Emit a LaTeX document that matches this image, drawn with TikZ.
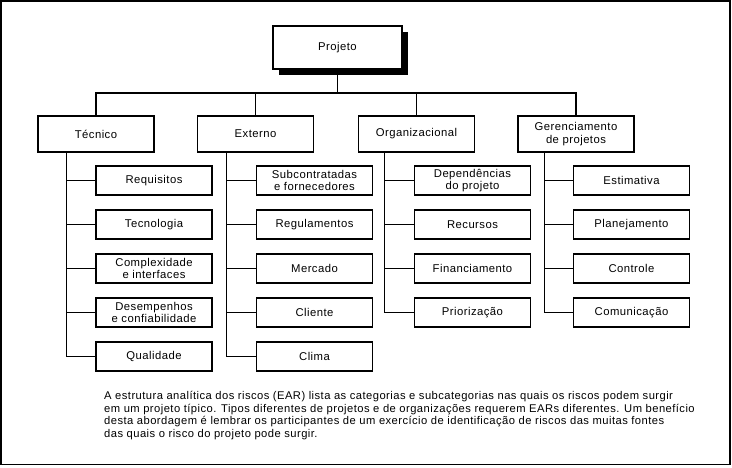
\documentclass[tikz,border=0pt]{standalone}
\usepackage{fontspec}
\setmainfont[LetterSpace=4]{Liberation Sans}
\begin{document}
\begin{tikzpicture}[x=1pt,y=-1pt,
  every node/.style={font=\fontsize{11.3}{12.2}\selectfont},
  bx/.style={draw, line width=1.3pt, minimum width=116pt, inner sep=0pt, align=center},
  lvl/.style={bx, minimum height=36pt},
  leaf/.style={bx, minimum height=29pt},
  conn/.style={line width=1.1pt}
]
\useasboundingbox (0,0) rectangle (732,467);
\draw[line width=1.8pt] (1,1) rectangle (730,464.5);

% root with shadow
\fill[black] (279,32) rectangle (408,75);
\node[bx, fill=white, minimum width=129pt, minimum height=43pt] (proj) at (337.5,47.5) {Projeto};

% level 1
\node[lvl] (tec) at (96,134) {Técnico};
\node[lvl] (ext) at (255.5,134) {Externo};
\node[lvl] (org) at (416.5,134) {Organizacional};
\node[lvl] (ger) at (576,134) {Gerenciamento\\de projetos};

\coordinate (bus) at (0,93);
\draw[conn] (proj.south) -- (proj.south |- bus);
\draw[conn] (tec.north) -- (tec.north |- bus) -- (ger.north |- bus) -- (ger.north);
\draw[conn] (ext.north) -- (ext.north |- bus);
\draw[conn] (org.north) -- (org.north |- bus);

% Técnico children
\node[leaf] (t1) at (154,180.5) {Requisitos};
\node[leaf] (t2) at (154,224.5) {Tecnologia};
\node[leaf] (t3) at (154,268.5) {Complexidade\\e interfaces};
\node[leaf] (t4) at (154,312.5) {Desempenhos\\e confiabilidade};
\node[leaf] (t5) at (154,356.5) {Qualidade};

% Externo children
\node[leaf] (e1) at (314.5,180.5) {Subcontratadas\\e fornecedores};
\node[leaf] (e2) at (314.5,224.5) {Regulamentos};
\node[leaf] (e3) at (314.5,268.5) {Mercado};
\node[leaf] (e4) at (314.5,312.5) {Cliente};
\node[leaf] (e5) at (314.5,356.5) {Clima};

% Organizacional children
\node[leaf] (o1) at (472.5,180.5) {Dependências\\do projeto};
\node[leaf] (o2) at (472.5,224.5) {Recursos};
\node[leaf] (o3) at (472.5,268.5) {Financiamento};
\node[leaf] (o4) at (472.5,312.5) {Priorização};

% Gerenciamento children
\node[leaf] (g1) at (631.5,180.5) {Estimativa};
\node[leaf] (g2) at (631.5,224.5) {Planejamento};
\node[leaf] (g3) at (631.5,268.5) {Controle};
\node[leaf] (g4) at (631.5,312.5) {Comunicação};

% spines
\coordinate (ts) at ([xshift=29pt]tec.south west);
\coordinate (es) at ([xshift=30pt]ext.south west);
\coordinate (os) at ([xshift=27pt]org.south west);
\coordinate (gs) at ([xshift=27pt]ger.south west);

\draw[conn] (ts) |- (t5.west);
\foreach \c in {t1,t2,t3,t4} \draw[conn] (\c.west) -- (\c.west -| ts);
\draw[conn] (es) |- (e5.west);
\foreach \c in {e1,e2,e3,e4} \draw[conn] (\c.west) -- (\c.west -| es);
\draw[conn] (os) |- (o4.west);
\foreach \c in {o1,o2,o3} \draw[conn] (\c.west) -- (\c.west -| os);
\draw[conn] (gs) |- (g4.west);
\foreach \c in {g1,g2,g3} \draw[conn] (\c.west) -- (\c.west -| gs);

% caption
\node[anchor=north west, inner sep=0pt, align=left, font=\fontsize{11.2}{12.4}\selectfont] (cap) at (104,391.5)
{A estrutura analítica dos riscos (EAR) lista as categorias e subcategorias nas quais os riscos podem surgir\\
em um projeto típico. Tipos diferentes de projetos e de organizações requerem EARs diferentes. Um benefício\\
desta abordagem é lembrar os participantes de um exercício de identificação de riscos das muitas fontes\\
das quais o risco do projeto pode surgir.};
\end{tikzpicture}
\end{document}
